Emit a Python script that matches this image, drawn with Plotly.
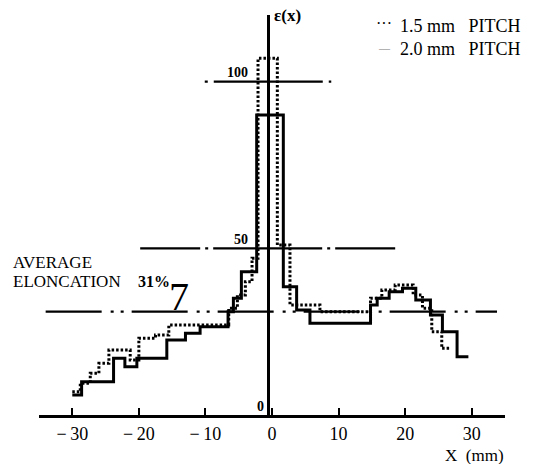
import plotly.graph_objects as go

# ---------------- data ----------------
# 2.0 mm pitch (solid) step profile: bin edges (mm) and elongation (%)
solid_x = [-30.0, -28.6, -23.8, -22.1, -20.3, -15.8, -13.0, -10.8, -6.6, -5.8,
           -4.6, -2.3, 1.7, 3.7, 5.7, 14.8, 15.8, 17.6, 19.6, 21.6, 23.8,
           25.6, 27.8, 29.5]
solid_y = [6, 10, 17, 14.5, 17, 22.5, 24.5, 26.5, 31, 35,
           43, 90, 38.5, 31.5, 27.5, 33, 35, 37, 38, 34.5, 30,
           25, 17.5, 17.5]

# 1.5 mm pitch (dotted) step profile
dot_x = [-30.0, -28.8, -27.3, -26.0, -24.5, -21.3, -20.0, -17.5, -15.5,
         -6.5, -5.2, -4.0, -3.0, -2.1, 0.8, 2.7, 7.2, 14.8, 16.5, 18.5,
         21.2, 22.6, 24.0, 25.5, 26.8]
dot_y = [7, 9.5, 12.5, 15.5, 19.5, 16.5, 23, 24, 27,
         32, 36, 40, 47, 107, 51, 33, 31, 35, 37.5, 39,
         36, 32, 25, 20, 20]

# reference levels (%) and their horizontal extents (mm)
ref_levels = [100, 50, 31]
ref_x0 = [-10.1, -19.8, -34.0]
ref_x1 = [8.9, 19.0, 33.8]
ref_dash = ["3px,6px,109px,6px,3px,300px",
            "60px,5px,3px,5px,109px,5px,3px,5px,60px,300px",
            "56px,9px,3px,7px,3px,8px"]

xtick_vals = [-30, -20, -10, 0, 10, 20, 30]
xtick_text = ["\u2212\u200930", "\u2212\u200920", "\u2212\u200910", "0", "10", "20", "30"]
ytick_vals = [100, 50, 0]
ytick_text = ["100", "50", "0"]

series_names = ["1.5 mm\u00a0\u00a0\u00a0PITCH", "2.0 mm\u00a0\u00a0\u00a0PITCH"]

# ---------------- layout geometry ----------------
W, H = 539, 464
L, R, T, B = 39, 34, 15, 49
PW, PH = W - L - R, H - T - B
SERIF = "Liberation Serif, Times New Roman, serif"


def px(xp, yp):
    return (xp - L) / PW, (H - B - yp) / PH


fig = go.Figure()

# reference dash-dot lines
for lvl, a, b, d in zip(ref_levels, ref_x0, ref_x1, ref_dash):
    fig.add_trace(go.Scatter(x=[a, b], y=[lvl, lvl], mode="lines",
                             line=dict(color="black", width=2.2, dash=d),
                             hoverinfo="skip", showlegend=False))

# profiles
fig.add_trace(go.Scatter(x=dot_x, y=dot_y, mode="lines", name=series_names[0],
                         line=dict(shape="hv", color="black", width=3, dash="2.5px,2px"),
                         showlegend=False))
fig.add_trace(go.Scatter(x=solid_x, y=solid_y, mode="lines", name=series_names[1],
                         line=dict(shape="hv", color="black", width=3),
                         showlegend=False))

ann = []


def text(xp, yp, s, size=18, bold=False, anchor="left", color="black"):
    x, y = px(xp, yp)
    ann.append(dict(x=x, y=y, xref="paper", yref="paper", text=("<b>%s</b>" % s) if bold else s,
                    showarrow=False, xanchor=anchor, yanchor="middle",
                    font=dict(family=SERIF, size=size, color=color)))


# axis title / labels
text(272, 16, "\u03b5(x)", size=17, bold=True)
text(443, 455, "X\u00a0\u00a0(mm)", size=17)

# legend
text(374, 24, "\u00b7\u00b7\u00b7", size=16)
text(398, 26, series_names[0], size=18)
text(376, 48, "\u2014", size=11, color="#777")
text(398, 49, series_names[1], size=18)

# average elongation callout
text(11, 262, "AVERAGE", size=17)
text(11, 281, "ELONCATION", size=17)
text(136, 281, "31%", size=16, bold=True)
text(167, 296, "7", size=40)

# y value labels (above their lines, left of the axis)
for v, t in zip(ytick_vals, ytick_text):
    right = 266 if v == 0 else 250
    x, _ = px(right, 0)
    _, y = px(0, 415 - v * PH / 120.0 - 9)
    ann.append(dict(x=x, y=y, xref="paper", yref="paper", text="<b>%s</b>" % t,
                    showarrow=False, xanchor="right", yanchor="middle",
                    font=dict(family=SERIF, size=14, color="black")))

fig.update_layout(
    width=W, height=H, autosize=False,
    margin=dict(l=L, r=R, t=T, b=B, pad=0),
    paper_bgcolor="white", plot_bgcolor="white",
    showlegend=False,
    annotations=ann,
    xaxis=dict(range=[-35, 35], showline=True, linecolor="black", linewidth=2.5,
               ticks="inside", ticklen=7, tickwidth=2, tickcolor="black",
               tickvals=xtick_vals, ticktext=xtick_text,
               tickfont=dict(family=SERIF, size=18, color="black"),
               ticklabelstandoff=1,
               showgrid=False, zeroline=False, fixedrange=True),
    yaxis=dict(range=[0, 120], anchor="free", position=(268 - L) / PW,
               showline=True, linecolor="black", linewidth=2.5,
               showticklabels=False, ticks="",
               showgrid=False, zeroline=False, fixedrange=True),
)

fig.write_html("out.html")
